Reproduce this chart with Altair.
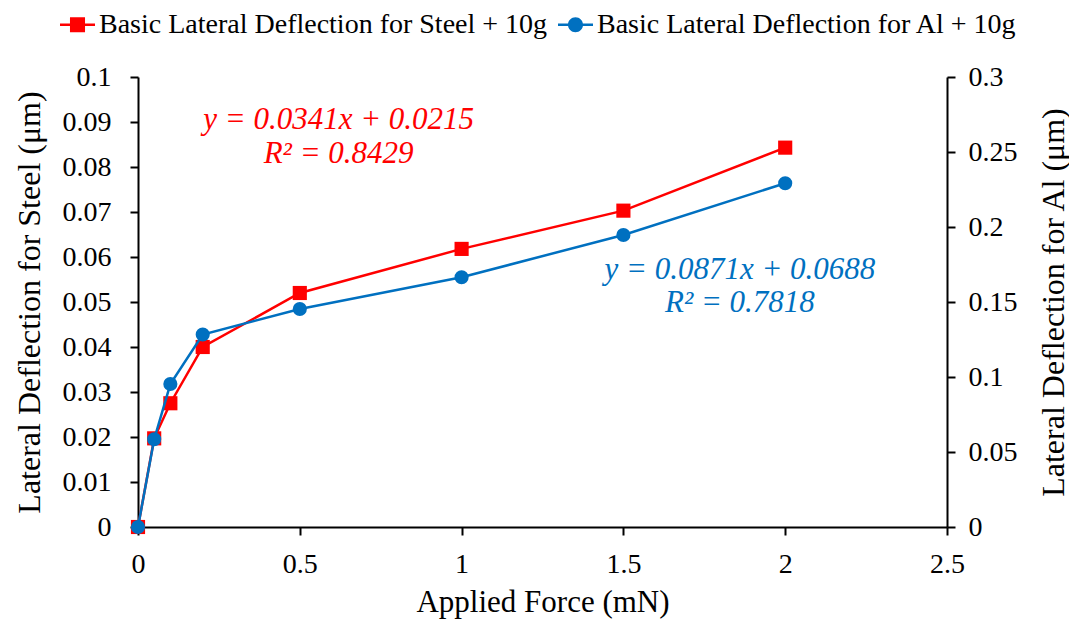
import altair as alt
import pandas as pd

force = [0, 0.05, 0.1, 0.2, 0.5, 1.0, 1.5, 2.0]
steel = [0.0, 0.0197, 0.0275, 0.0400, 0.0520, 0.0618, 0.0703, 0.0843]
al = [0.0, 0.0585, 0.0953, 0.1283, 0.1453, 0.1665, 0.1947, 0.2292]

series_names = ["Basic Lateral Deflection for Steel + 10g", "Basic Lateral Deflection for Al + 10g"]
series_colors = ["#FF0000", "#0070C0"]

steel_eq = ["y = 0.0341x + 0.0215", "R² = 0.8429"]
steel_eq_x = [0.62, 0.62]
steel_eq_y = [0.0905, 0.0828]
al_eq = ["y = 0.0871x + 0.0688", "R² = 0.7818"]
al_eq_x = [1.86, 1.86]
al_eq_y = [0.1713, 0.1493]

x_ticks = [0, 0.5, 1, 1.5, 2, 2.5]
steel_ticks = [0, 0.01, 0.02, 0.03, 0.04, 0.05, 0.06, 0.07, 0.08, 0.09, 0.1]
al_ticks = [0, 0.05, 0.1, 0.15, 0.2, 0.25, 0.3]

FONT = "Liberation Serif"

df_s = pd.DataFrame({"x": force, "y": steel})
df_a = pd.DataFrame({"x": force, "y": al})
df_se = pd.DataFrame({"x": steel_eq_x, "y": steel_eq_y, "t": steel_eq})
df_ae = pd.DataFrame({"x": al_eq_x, "y": al_eq_y, "t": al_eq})
df_leg = pd.DataFrame({"series": series_names})

xscale = alt.Scale(domain=[0, 2.5], nice=False, zero=False)
xaxis = alt.Axis(values=x_ticks, format="~g", title="Applied Force (mN)", labelFlush=False,
                 labelPadding=15, titlePadding=9, titleFontSize=31)

s_scale = alt.Scale(domain=[0, 0.1], nice=False)
a_scale = alt.Scale(domain=[0, 0.3], nice=False)
s_axis = alt.Axis(values=steel_ticks, format="~g", title="Lateral Deflection for Steel (μm)",
                  orient="left", labelPadding=19, titlePadding=16, labelFlush=False)
a_axis = alt.Axis(values=al_ticks, format="~g", title="Lateral Deflection for Al (μm)",
                  orient="right", labelPadding=13, titlePadding=53, titleAngle=270,
                  labelFlush=False)

X = alt.X("x:Q", scale=xscale, axis=xaxis)
YS = alt.Y("y:Q", scale=s_scale, axis=s_axis)
YA = alt.Y("y:Q", scale=a_scale, axis=a_axis)

s_line = alt.Chart(df_s).mark_line(color=series_colors[0], strokeWidth=2.5).encode(x=X, y=YS)
s_pts = alt.Chart(df_s).mark_point(shape="square", filled=True, opacity=1, size=200,
                                   color=series_colors[0]).encode(x=X, y=YS)
s_txt = alt.Chart(df_se).mark_text(font=FONT, fontSize=31, fontStyle="italic",
                                   color=series_colors[0]).encode(x=X, y=YS, text="t:N")

line_path = "M-1,-0.07L1,-0.07L1,0.07L-1,0.07Z"
sq_path = line_path + "M-0.43,-0.43L0.43,-0.43L0.43,0.43L-0.43,0.43Z"
ci_path = line_path + "M0.43,0A0.43,0.43 0 1,1 -0.43,0A0.43,0.43 0 1,1 0.43,0Z"

legend_layer = alt.Chart(df_leg).mark_point(filled=True, opacity=1).encode(
    x=alt.value(-3000),
    y=alt.value(-3000),
    color=alt.Color("series:N", sort=series_names,
                    scale=alt.Scale(domain=series_names, range=series_colors),
                    legend=alt.Legend(title=None, orient="none", direction="horizontal",
                                      legendX=-78, legendY=-70,
                                      labelFont=FONT, labelFontSize=28, labelColor="black",
                                      symbolSize=1225, symbolStrokeWidth=0,
                                      labelOffset=4, columnPadding=10, labelLimit=700)),
    shape=alt.Shape("series:N", sort=series_names,
                    scale=alt.Scale(domain=series_names, range=[sq_path, ci_path])),
)

left = alt.layer(s_line, s_pts, s_txt, legend_layer)

a_line = alt.Chart(df_a).mark_line(color=series_colors[1], strokeWidth=2.5).encode(x=X, y=YA)
a_pts = alt.Chart(df_a).mark_point(shape="circle", filled=True, opacity=1, size=200,
                                   color=series_colors[1]).encode(x=X, y=YA)
a_txt = alt.Chart(df_ae).mark_text(font=FONT, fontSize=31, fontStyle="italic",
                                   color=series_colors[1]).encode(x=X, y=YA, text="t:N")
right = alt.layer(a_line, a_pts, a_txt)

chart = alt.layer(left, right).resolve_scale(y="independent").properties(
    width=809, height=450,
    autosize=alt.AutoSizeParams(type="none"),
    padding={"left": 130, "top": 69, "right": 122, "bottom": 95},
).configure_view(stroke=None).configure_axis(
    grid=False, domainColor="black", domainWidth=2, tickColor="black", tickWidth=2, tickSize=8,
    labelFont=FONT, labelFontSize=28, labelColor="black",
    titleFont=FONT, titleFontSize=32, titleColor="black", titleFontWeight="normal",
)

chart.save("out.html", embed_options={"renderer": "svg", "actions": False})
